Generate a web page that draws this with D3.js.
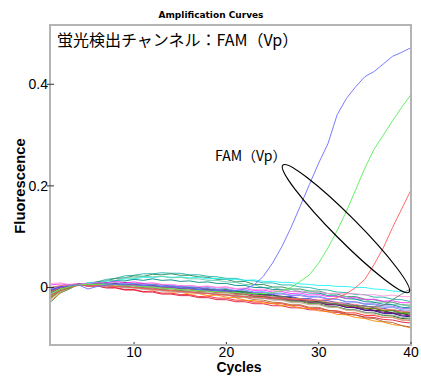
<!DOCTYPE html>
<html>
<head>
<meta charset="utf-8">
<script src="https://cdn.jsdelivr.net/npm/d3@7"></script>
<style>
  body { margin: 0; background: #fff; }
  svg { display: block; }
</style>
</head>
<body>
<svg id="svg"></svg>
<script>
// fluorescence values are in units of 0.001
const cycles = [1,2,3,4,5,6,7,8,9,10,11,12,13,14,15,16,17,18,19,20,21,22,23,24,25,26,27,28,29,30,31,32,33,34,35,36,37,38,39,40];
const xTicks = [10, 20, 30, 40];
const yTicks = [0, 0.2, 0.4];
const yTickLabels = ['0', '0.2', '0.4'];

// background (non amplifying) wells
const wellTeal = [-20,-9,1,6,9,11,16,18,23,24,27,27,29,28,28,25,25,22,21,18,18,14,13,9,9,5,5,1,0,-4,-5,-9,-10,-14,-14,-19,-19,-23,-24,-28];
const wellSeaGreen = [-28,-11,-3,6,6,11,13,18,19,23,22,26,25,27,24,24,21,20,16,16,11,12,6,6,1,1,-3,-3,-7,-7,-12,-13,-18,-18,-23,-24,-28,-29,-34,-35];
const wellCyan = [-10,-4,4,5,9,9,13,13,17,17,20,19,22,20,21,19,20,17,18,16,16,14,15,12,12,10,10,7,6,4,4,2,2,0,0,-3,-4,-7,-8,-11];
const wellAqua = [-15,-6,3,5,8,8,13,14,19,19,22,21,22,19,20,17,17,14,14,11,10,6,5,0,0,-4,-4,-8,-7,-11,-12,-17,-18,-23,-24,-29,-29,-34,-34,-38];
const wellDarkCyan = [-5,1,3,7,6,9,9,13,13,16,14,17,14,15,12,13,10,11,8,8,4,4,0,0,-4,-4,-8,-8,-11,-11,-16,-17,-22,-23,-28,-29,-33,-34,-39,-40];
const wellBlack = [0,2,6,6,7,6,9,7,10,8,8,5,6,2,3,-1,0,-4,-4,-7,-7,-11,-11,-15,-15,-19,-20,-24,-25,-29,-30,-34,-35,-40,-41,-45,-46,-50,-51,-55];
const wellNavy = [-5,1,3,7,5,8,6,8,5,7,4,5,1,2,-1,-1,-4,-4,-8,-7,-11,-11,-15,-15,-20,-20,-24,-24,-29,-29,-34,-34,-39,-40,-45,-46,-51,-51,-56,-58];
const wellBlue = [-2,1,6,5,6,5,9,7,8,6,7,4,5,1,2,-1,-1,-4,-4,-7,-6,-10,-10,-14,-14,-18,-18,-22,-22,-26,-26,-30,-31,-35,-36,-40,-41,-45,-46,-50];
const wellRed = [-8,-1,2,6,2,3,0,0,-4,-4,-8,-7,-11,-11,-14,-14,-18,-17,-21,-21,-25,-25,-29,-28,-32,-32,-36,-36,-41,-41,-45,-46,-50,-50,-55,-55,-59,-59,-64,-65];
const wellCrimson = [-12,-3,1,6,3,3,-1,-1,-5,-5,-9,-9,-13,-13,-16,-16,-20,-20,-24,-24,-28,-28,-32,-32,-36,-36,-40,-40,-44,-44,-48,-49,-53,-54,-58,-59,-63,-64,-68,-70];
const wellOrange = [-25,-11,0,4,7,5,6,3,3,-1,-1,-5,-5,-9,-9,-13,-12,-16,-15,-19,-20,-25,-26,-31,-31,-36,-36,-41,-41,-46,-47,-53,-54,-59,-61,-66,-68,-73,-75,-80];
const wellBrown = [-20,-7,-1,6,5,7,5,6,3,3,-1,-1,-5,-5,-8,-8,-11,-11,-14,-14,-19,-19,-24,-25,-29,-30,-34,-34,-39,-39,-45,-47,-52,-54,-60,-61,-67,-69,-75,-78];
const wellMagenta = [5,7,5,8,7,10,9,12,9,11,8,9,6,6,3,4,1,2,0,1,-3,-2,-6,-5,-9,-8,-12,-11,-15,-14,-18,-17,-21,-20,-24,-23,-27,-26,-30,-30];
const wellPink = [8,9,6,8,7,9,8,10,7,9,6,8,5,6,3,4,2,3,0,1,-2,-1,-4,-3,-6,-5,-8,-7,-10,-9,-12,-11,-13,-12,-15,-14,-17,-15,-18,-18];
const wellViolet = [-3,2,3,7,5,8,6,8,5,7,4,5,2,2,-1,0,-3,-2,-5,-4,-7,-7,-10,-10,-13,-13,-16,-16,-19,-19,-23,-23,-28,-28,-32,-32,-36,-37,-41,-42];
const wellForest = [-10,-2,1,6,5,8,7,8,5,6,3,4,1,1,-2,-1,-4,-3,-6,-4,-8,-8,-13,-13,-17,-17,-22,-22,-27,-27,-31,-32,-36,-36,-41,-41,-46,-46,-51,-52];
const wellDarkGreen = [-15,-5,0,6,5,7,5,6,3,4,1,1,-3,-2,-6,-5,-8,-7,-10,-9,-13,-13,-18,-18,-22,-23,-27,-27,-32,-32,-37,-38,-43,-44,-49,-50,-55,-56,-61,-62];
const wellGray = [-22,-8,-2,6,3,4,1,2,-1,-1,-4,-4,-7,-7,-10,-9,-12,-11,-14,-13,-17,-17,-21,-21,-25,-25,-30,-30,-34,-34,-39,-39,-44,-44,-49,-49,-54,-54,-59,-60];
const wellOlive = [-18,-6,-1,6,5,7,5,6,4,5,2,3,-1,0,-4,-3,-7,-6,-10,-9,-13,-13,-17,-17,-21,-21,-25,-25,-29,-29,-33,-33,-37,-37,-41,-41,-45,-45,-49,-50];
const wellTan = [-12,-3,1,6,5,7,4,6,3,4,1,1,-3,-3,-7,-6,-9,-9,-12,-11,-15,-15,-20,-20,-24,-24,-29,-29,-33,-33,-38,-39,-45,-46,-51,-53,-58,-59,-64,-66];
const wellCornflower = [-2,3,4,7,6,9,7,9,7,8,5,6,3,4,1,2,-1,0,-3,-2,-6,-5,-9,-8,-12,-11,-15,-14,-18,-17,-22,-23,-28,-29,-33,-34,-39,-39,-44,-45];
const wellPurple = [-6,1,2,7,4,7,5,7,4,6,3,3,0,0,-3,-3,-6,-5,-9,-8,-12,-12,-16,-16,-21,-21,-25,-25,-29,-29,-34,-34,-39,-39,-44,-45,-49,-50,-54,-56];
const wellSalmon = [0,4,4,7,4,7,5,6,4,5,2,2,-1,-1,-4,-4,-7,-6,-10,-9,-13,-12,-16,-16,-19,-19,-22,-22,-25,-25,-29,-29,-33,-33,-38,-38,-43,-43,-47,-48];

// amplifying wells
const wellLateGray = [-14,-5,2,5,5,4,3,2,1,0,-1,-3,-4,-6,-7,-9,-10,-12,-13,-15,-16,-18,-19,-21,-22,-24,-25,-27,-28,-30,-31,-33,-34,-36,-37,-38,-35,-24,-13,-2];
const ampRed = [-15,-6,1,5,5,4,3,2,1,0,-2,-3,-5,-6,-8,-9,-11,-12,-14,-15,-17,-18,-19,-20,-21,-22,-23,-24,-25,-25,-24,-20,-12,0,16,45,78,118,155,192];
const ampGreen = [-12,-4,2,5,6,6,6,5,4,3,2,1,-1,-2,-4,-5,-6,-7,-8,-9,-10,-11,-12,-12,-10,-6,0,12,25,48,78,112,150,192,235,272,300,328,355,380];
const ampBlue = [-5,0,4,5,-3,2,5,6,5,5,4,3,2,1,-1,-2,-4,-5,-6,-7,-6,-3,5,22,48,80,118,160,203,245,283,340,372,395,415,425,440,455,463,472];

const wells = [wellTeal, wellSeaGreen, wellCyan, wellAqua, wellDarkCyan, wellBlack, wellNavy, wellBlue,
  wellRed, wellCrimson, wellOrange, wellBrown, wellMagenta, wellPink, wellViolet, wellForest,
  wellDarkGreen, wellGray, wellOlive, wellTan, wellCornflower, wellPurple, wellSalmon,
  wellLateGray, ampRed, ampGreen, ampBlue];
const wellColors = ['#20b2aa', '#2e8b57', '#22f4f4', '#66cdaa', '#008b8b', '#111111', '#000080', '#3333cc',
  '#ff2020', '#dc143c', '#ff8c00', '#b0622d', '#ff33ff', '#ff99dd', '#9966ff', '#228b22',
  '#006400', '#a9a9a9', '#808000', '#d2b48c', '#6495ed', '#800080', '#fa8072',
  '#777777', '#ff5a5a', '#55ee55', '#6b6bff'];

const UNIT = 0.001;
const width = 421, height = 376;
const plot = {left: 50, right: 411, top: 25, bottom: 345};

const svg = d3.select('#svg').attr('width', width).attr('height', height);

const xScale = d3.scaleLinear().domain([1, 40]).range([51, 411]);
const yScale = d3.scaleLinear().domain([-0.1132, 0.5167]).range([plot.bottom, plot.top]);

svg.append('defs').append('clipPath').attr('id', 'clip')
  .append('rect')
  .attr('x', plot.left).attr('y', plot.top)
  .attr('width', plot.right - plot.left).attr('height', plot.bottom - plot.top);

// title
svg.append('text')
  .attr('x', 211).attr('y', 18)
  .attr('text-anchor', 'middle')
  .style('font-family', 'DejaVu Sans')
  .style('font-weight', '900')
  .style('font-size', '9px')
  .text('Amplification Curves');

// curves
const line = d3.line()
  .x((d, i) => xScale(cycles[i]))
  .y(d => yScale(d * UNIT));

svg.append('g').attr('clip-path', 'url(#clip)')
  .selectAll('path')
  .data(wells)
  .enter()
  .append('path')
  .attr('d', line)
  .attr('fill', 'none')
  .attr('stroke', (d, i) => wellColors[i])
  .attr('stroke-width', 1)
  .attr('stroke-opacity', 0.9);

// frame
svg.append('rect')
  .attr('x', plot.left).attr('y', plot.top)
  .attr('width', plot.right - plot.left).attr('height', plot.bottom - plot.top)
  .attr('fill', 'none')
  .attr('stroke', '#b4b4b4')
  .attr('stroke-width', 2);

// y axis ticks
const yAxis = svg.append('g');
yAxis.selectAll('line').data(yTicks).enter().append('line')
  .attr('x1', 47).attr('x2', 54)
  .attr('y1', d => yScale(d)).attr('y2', d => yScale(d))
  .attr('stroke', '#333').attr('stroke-width', 1);
yAxis.selectAll('text').data(yTicks).enter().append('text')
  .attr('x', 48)
  .attr('y', d => yScale(d))
  .attr('dy', '0.35em')
  .attr('text-anchor', 'end')
  .style('font-family', 'Liberation Sans')
  .style('font-size', '14px')
  .text((d, i) => yTickLabels[i]);

// x axis ticks
const xAxis = svg.append('g');
xAxis.selectAll('line').data(xTicks).enter().append('line')
  .attr('x1', d => xScale(d)).attr('x2', d => xScale(d))
  .attr('y1', 342).attr('y2', 344)
  .attr('stroke', '#333').attr('stroke-width', 1);
xAxis.selectAll('text').data(xTicks).enter().append('text')
  .attr('x', d => xScale(d))
  .attr('y', 357)
  .attr('text-anchor', 'middle')
  .style('font-family', 'Liberation Sans')
  .style('font-size', '14px')
  .text(d => d);

// axis titles
svg.append('text')
  .attr('x', 239).attr('y', 372)
  .attr('text-anchor', 'middle')
  .style('font-family', 'Liberation Sans')
  .style('font-weight', 'bold')
  .style('font-size', '14px')
  .text('Cycles');

svg.append('text')
  .attr('transform', 'translate(25,186) rotate(-90)')
  .attr('text-anchor', 'middle')
  .style('font-family', 'Liberation Sans')
  .style('font-weight', 'bold')
  .style('font-size', '14.8px')
  .text('Fluorescence');

// annotations
svg.append('text')
  .attr('x', 57).attr('y', 46)
  .style('font-family', 'Noto Sans CJK JP')
  .style('font-size', '16px')
  .text('蛍光検出チャンネル：FAM（Vp）');

svg.append('text')
  .attr('x', 215).attr('y', 161)
  .style('font-family', 'Noto Sans CJK JP')
  .style('font-size', '14px')
  .text('FAM（Vp）');

const ellipseCx = xScale(32.95), ellipseCy = yScale(0.116);
svg.append('ellipse')
  .attr('transform', `translate(${ellipseCx},${ellipseCy}) rotate(45.2)`)
  .attr('rx', 89.5).attr('ry', 12)
  .attr('fill', 'none')
  .attr('stroke', '#000')
  .attr('stroke-width', 1.2);
</script>
</body>
</html>
